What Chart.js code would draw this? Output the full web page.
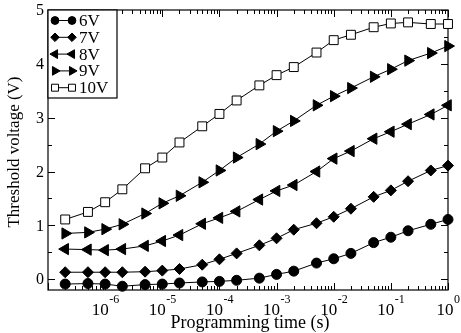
<!DOCTYPE html>
<html>
<head>
<meta charset="utf-8">
<script src="https://cdn.jsdelivr.net/npm/chart.js@4.4.1/dist/chart.umd.min.js"></script>
<style>
  body { margin: 0; background: #fff; }
  canvas { display: block; }
</style>
</head>
<body>
<canvas id="chart" width="461" height="333"></canvas>
<script>
// Programming times (s) - same for every curve
const times = [2e-7, 5e-7, 1e-6, 2e-6, 5e-6, 1e-5, 2e-5, 5e-5, 1e-4, 2e-4, 5e-4,
               1e-3, 2e-3, 5e-3, 1e-2, 2e-2, 5e-2, 1e-1, 2e-1, 5e-1, 1];

// Threshold voltage (V) for each programming voltage
const v6 = [-0.09, -0.08, -0.09, -0.13, -0.10, -0.09, -0.07, -0.05, -0.04, -0.02, 0.02,
            0.09, 0.15, 0.30, 0.38, 0.48, 0.68, 0.78, 0.90, 1.02, 1.11];
const v7 = [0.13, 0.13, 0.13, 0.13, 0.14, 0.16, 0.19, 0.27, 0.37, 0.48, 0.63,
            0.76, 0.92, 1.04, 1.16, 1.31, 1.53, 1.65, 1.82, 2.02, 2.11];
const v8 = [0.56, 0.55, 0.54, 0.56, 0.62, 0.71, 0.82, 1.03, 1.14, 1.26, 1.48,
            1.64, 1.75, 2.00, 2.24, 2.38, 2.61, 2.74, 2.88, 3.06, 3.23];
const v9 = [0.85, 0.87, 0.93, 1.02, 1.22, 1.41, 1.55, 1.80, 2.02, 2.26, 2.51,
            2.75, 2.94, 3.23, 3.40, 3.55, 3.76, 3.90, 4.06, 4.20, 4.33];
const v10 = [1.11, 1.25, 1.43, 1.67, 2.06, 2.26, 2.54, 2.84, 3.07, 3.32, 3.60,
             3.79, 3.94, 4.21, 4.44, 4.54, 4.68, 4.75, 4.77, 4.74, 4.74];

const seriesLabels = ['6V', '7V', '8V', '9V', '10V'];
const xTickExponents = [-6, -5, -4, -3, -2, -1, 0];
const yTickValues = [0, 1, 2, 3, 4, 5];

const serif = '"Liberation Serif", "DejaVu Serif", serif';

function toPoints(values) {
    return times.map((t, i) => ({ x: t, y: values[i] }));
}

// Frame, inward ticks on all four sides, tick labels and axis titles
const axesPlugin = {
    id: 'axesPlugin',
    beforeDatasetsDraw(chart) {
        const { ctx, chartArea: a, scales: { x, y } } = chart;
        ctx.save();
        ctx.strokeStyle = '#000';
        ctx.lineWidth = 1.2;
        ctx.strokeRect(a.left, a.top, a.right - a.left, a.bottom - a.top);

        ctx.lineWidth = 1;
        ctx.beginPath();
        // log minor/major ticks on bottom and top
        for (let e = -7; e <= 0; e++) {
            for (let m = 1; m <= 9; m++) {
                const v = m * Math.pow(10, e);
                if (v < x.min * 0.999 || v > x.max * 1.001) continue;
                const px = Math.round(x.getPixelForValue(v)) + 0.5;
                const len = m === 1 ? 7 : 4;
                ctx.moveTo(px, a.bottom); ctx.lineTo(px, a.bottom - len);
                ctx.moveTo(px, a.top); ctx.lineTo(px, a.top + len);
            }
        }
        // y ticks every 0.5 on left and right
        for (let v = 0; v <= 5; v += 0.5) {
            const py = Math.round(y.getPixelForValue(v)) + 0.5;
            const len = Number.isInteger(v) ? 7 : 4;
            ctx.moveTo(a.left, py); ctx.lineTo(a.left + len, py);
            ctx.moveTo(a.right, py); ctx.lineTo(a.right - len, py);
        }
        ctx.stroke();

        ctx.fillStyle = '#000';
        // y tick labels
        ctx.font = '16px ' + serif;
        ctx.textAlign = 'right';
        ctx.textBaseline = 'middle';
        yTickValues.forEach(v => {
            ctx.fillText(String(v), a.left - 4, y.getPixelForValue(v) + 1);
        });

        // x tick labels: 10 with superscript exponent
        ctx.textAlign = 'left';
        ctx.textBaseline = 'alphabetic';
        xTickExponents.forEach(e => {
            const px = x.getPixelForValue(Math.pow(10, e));
            ctx.font = '17px ' + serif;
            const w1 = ctx.measureText('10').width;
            ctx.font = '12px ' + serif;
            const exp = String(e);
            const w2 = ctx.measureText(exp).width;
            const start = px - (w1 + w2) / 2;
            ctx.font = '17px ' + serif;
            ctx.fillText('10', start, a.bottom + 25);
            ctx.font = '12px ' + serif;
            ctx.fillText(exp, start + w1 + 0.5, a.bottom + 13);
        });

        // axis titles
        ctx.font = '18px ' + serif;
        ctx.textAlign = 'center';
        ctx.fillText('Programming time (s)', (a.left + a.right) / 2 + 2, a.bottom + 38);
        ctx.font = '17px ' + serif;
        ctx.save();
        ctx.translate(19, (a.top + a.bottom) / 2 + 2);
        ctx.rotate(-Math.PI / 2);
        ctx.fillText('Threshold voltage (V)', 0, 0);
        ctx.restore();
        ctx.restore();
    },
    // legend box in the upper left corner
    afterDraw(chart) {
        const { ctx, chartArea: a } = chart;
        ctx.save();
        const boxW = 69, boxH = 88;
        ctx.fillStyle = '#fff';
        ctx.fillRect(a.left, a.top, boxW, boxH);
        ctx.strokeStyle = '#000';
        ctx.lineWidth = 1.2;
        ctx.strokeRect(a.left, a.top, boxW, boxH);
        chart.data.datasets.forEach((ds, i) => {
            const ly = a.top + 10.5 + i * 16.8;
            const x1 = a.left + 7, x2 = a.left + 24;
            ctx.strokeStyle = '#000';
            ctx.lineWidth = 1;
            ctx.beginPath();
            ctx.moveTo(x1, ly); ctx.lineTo(x2, ly);
            ctx.stroke();
            const opts = {
                pointStyle: ds.pointStyle,
                rotation: ds.pointRotation || 0,
                radius: ds.pointRadius * 0.78,
                borderWidth: ds.pointBorderWidth
            };
            [x1, x2].forEach(px => {
                ctx.fillStyle = ds.pointBackgroundColor;
                ctx.strokeStyle = ds.pointBorderColor;
                ctx.lineWidth = ds.pointBorderWidth;
                Chart.helpers.drawPoint(ctx, opts, px, ly);
            });
            ctx.fillStyle = '#000';
            ctx.font = '17px ' + serif;
            ctx.textAlign = 'left';
            ctx.textBaseline = 'middle';
            ctx.fillText(ds.label, a.left + 31, ly + 1);
        });
        ctx.restore();
    }
};

function makeDataset(label, values, style) {
    return Object.assign({
        label: label,
        data: toPoints(values),
        borderColor: '#000',
        borderWidth: 1,
        pointBackgroundColor: '#000',
        pointBorderColor: '#000',
        pointBorderWidth: 1,
        tension: 0,
        clip: false
    }, style);
}

new Chart(document.getElementById('chart'), {
    type: 'line',
    data: {
        datasets: [
            makeDataset(seriesLabels[0], v6, { pointStyle: 'circle', pointRadius: 5 }),
            makeDataset(seriesLabels[1], v7, { pointStyle: 'rectRot', pointRadius: 5.5 }),
            makeDataset(seriesLabels[2], v8, { pointStyle: 'triangle', pointRotation: 270, pointRadius: 6.5 }),
            makeDataset(seriesLabels[3], v9, { pointStyle: 'triangle', pointRotation: 90, pointRadius: 6.5 }),
            makeDataset(seriesLabels[4], v10, { pointStyle: 'rect', pointRadius: 6.3, pointBackgroundColor: '#fff' })
        ]
    },
    options: {
        responsive: false,
        animation: false,
        layout: { padding: { left: 48, right: 13, top: 10, bottom: 43 } },
        scales: {
            x: { type: 'logarithmic', min: 1e-7, max: 1, display: false },
            y: { type: 'linear', min: -0.2, max: 5, display: false }
        },
        plugins: {
            legend: { display: false },
            tooltip: { enabled: false }
        }
    },
    plugins: [axesPlugin]
});
</script>
</body>
</html>
